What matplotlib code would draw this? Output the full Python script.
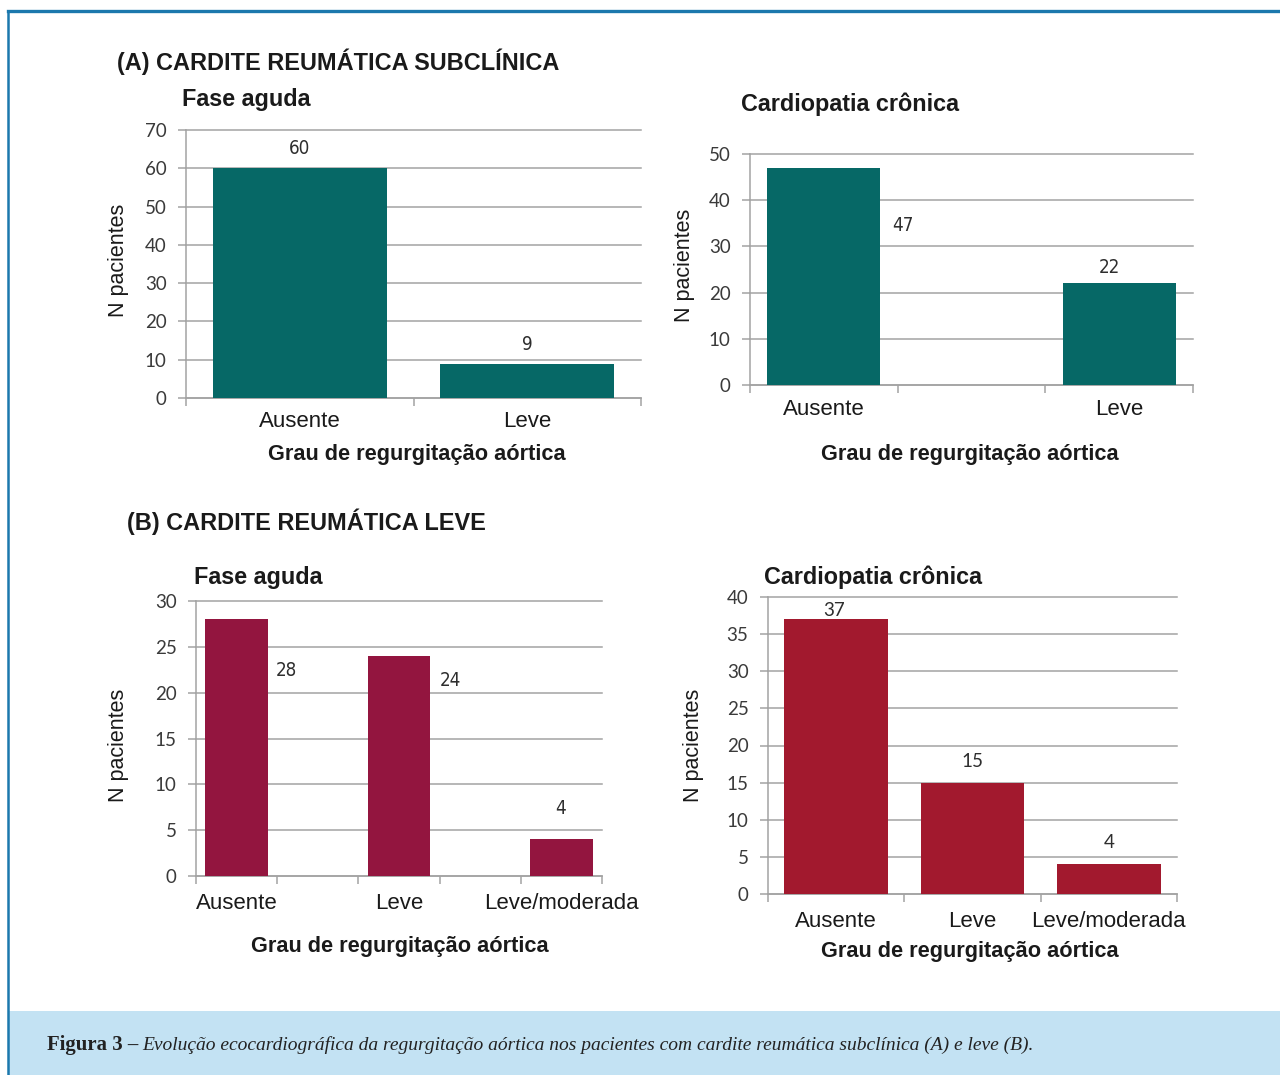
import matplotlib
matplotlib.use("Agg")
import matplotlib.pyplot as plt
from matplotlib.patches import Rectangle
from matplotlib.lines import Line2D

# ---- data ---------------------------------------------------------------
grau_a = ["Ausente", "Leve"]
grau_b = ["Ausente", "Leve", "Leve/moderada"]

a_fase_aguda = [60, 9]
a_cardiopatia = [47, 22]
b_fase_aguda = [28, 24, 4]
b_cardiopatia = [37, 15, 4]

yticks_a_aguda = [0, 10, 20, 30, 40, 50, 60, 70]
yticks_a_cronica = [0, 10, 20, 30, 40, 50]
yticks_b_aguda = [0, 5, 10, 15, 20, 25, 30]
yticks_b_cronica = [0, 5, 10, 15, 20, 25, 30, 35, 40]

titulo_a = "(A) CARDITE REUMÁTICA SUBCLÍNICA"
titulo_b = "(B) CARDITE REUMÁTICA LEVE"
sub_aguda = "Fase aguda"
sub_cronica = "Cardiopatia crônica"
eixo_x = "Grau de regurgitação aórtica"
eixo_y = "N pacientes"
legenda_neg = "Figura 3 –"
legenda_ita = ("Evolução ecocardiográfica da regurgitação aórtica nos pacientes "
               "com cardite reumática subclínica (A) e leve (B).")

# ---- style --------------------------------------------------------------
W, H = 1280, 1075
SANS = ["Liberation Sans", "DejaVu Sans"]
NUM = ["Lato", "DejaVu Sans"]
NARROW = ["DejaVu Sans"]
SERIF = ["Liberation Serif", "DejaVu Serif"]
GRID = "#a3a3a3"
TEAL = "#066866"
WINE = "#93153f"
RED = "#a2192e"
FRAME = "#1b78ad"
CAPTION_BG = "#c3e2f3"

fig = plt.figure(figsize=(W / 100, H / 100), dpi=100)


def px_rect(x0, y0, x1, y1):
    """Pixel box measured from the top-left corner -> figure fraction rect."""
    return [x0 / W, 1 - y1 / H, (x1 - x0) / W, (y1 - y0) / H]


def panel(box, cats, vals, slots, xlim, bounds, width, color, yticks,
          title, title_pos, xlab_pos, ylab_pos, cat_pad, val_offsets, val_font,
          val_size, val_stretch="normal"):
    ax = fig.add_axes(px_rect(*box))
    ax.set_xlim(*xlim)
    ax.set_ylim(yticks[0], yticks[-1])
    bars = ax.bar(slots, vals, width=width, color=color, zorder=3)

    ax.set_yticks(yticks)
    ax.set_xticks(slots)
    ax.set_xticklabels(cats, fontsize=16, family=SANS, color="#1a1a1a")
    ax.set_xticks(bounds, minor=True)
    ax.tick_params(axis="x", which="major", length=0, pad=cat_pad)
    ax.tick_params(axis="x", which="minor", length=6, width=1.1,
                   color=GRID, direction="out")
    ax.tick_params(axis="y", length=6, width=1.1, color=GRID, pad=8,
                   labelsize=13.5, labelcolor="#3a3a3a")
    for lab in ax.get_yticklabels():
        lab.set_family(NUM)

    ax.yaxis.grid(True, color=GRID, lw=1.1)
    for gl in ax.get_ygridlines():
        gl.set_clip_on(False)
    ax.set_axisbelow(True)
    for side in ("top", "right"):
        ax.spines[side].set_visible(False)
    for side in ("left", "bottom"):
        ax.spines[side].set_color(GRID)
        ax.spines[side].set_linewidth(1.1)

    for bar, v, (dx, dy) in zip(bars, vals, val_offsets):
        ax.annotate(str(v), xy=(bar.get_x() + bar.get_width() / 2, v),
                    xytext=(dx, dy), textcoords="offset pixels",
                    ha="center", va="center", fontsize=val_size,
                    family=val_font, fontstretch=val_stretch,
                    color="#2e2e2e", zorder=4)

    ax.text(title_pos[0], title_pos[1], title, transform=ax.transAxes,
            ha="left", va="center", fontsize=16.8, fontweight="bold",
            family=SANS, color="#1a1a1a")

    ax.set_xlabel(eixo_x, fontsize=15.7, fontweight="bold", family=SANS,
                  color="#1a1a1a")
    ax.xaxis.set_label_coords(*xlab_pos)
    ax.xaxis.label.set_va("center")
    ax.set_ylabel(eixo_y, fontsize=15.5, family=SANS, color="#1a1a1a")
    ax.yaxis.set_label_coords(*ylab_pos)
    ax.yaxis.label.set_va("center")
    ax.yaxis.label.set_ha("center")
    return ax


# (A) subclinical carditis
panel((186, 130, 641, 398), grau_a, a_fase_aguda, [0, 1], (-0.5, 1.5),
      [-0.5, 0.5, 1.5], 0.765, TEAL, yticks_a_aguda, sub_aguda,
      (-0.009, 1.112), (0.508, -0.209), (-0.149, 0.515), 9.5,
      [(0, 20), (0, 19.5)], NARROW, 13.5, "condensed")

panel((750, 154, 1193, 385), grau_a, a_cardiopatia, [0, 1], (-0.25, 1.25),
      [-0.25, 0.25, 0.75, 1.25], 0.383, TEAL, yticks_a_cronica, sub_cronica,
      (-0.020, 1.216), (0.497, -0.299), (-0.147, 0.519), 10,
      [(79, -58), (-10, 16)], NARROW, 13.5, "condensed")

# (B) mild carditis
panel((196, 601, 602, 876), grau_b, b_fase_aguda, [0, 2, 4], (-0.5, 4.5),
      [-0.5, 0.5, 1.5, 2.5, 3.5, 4.5], 0.77, WINE, yticks_b_aguda, sub_aguda,
      (-0.005, 1.084), (0.502, -0.255), (-0.192, 0.476), 12,
      [(50, -51), (51, -24), (-1, 31)], NARROW, 13.5, "condensed")

panel((768, 597, 1177, 894), grau_b, b_cardiopatia, [0, 1, 2], (-0.5, 2.5),
      [-0.5, 0.5, 1.5, 2.5], 0.76, RED, yticks_b_cronica, sub_cronica,
      (-0.010, 1.067), (0.494, -0.192), (-0.183, 0.502), 12.5,
      [(-2, 9), (0, 21.6), (0, 22)], NUM, 13.5)

# section headings
fig.text(117 / W, 1 - 62 / H, titulo_a, ha="left", va="center",
         fontsize=16.9, fontweight="bold", family=SANS, color="#1a1a1a")
fig.text(127 / W, 1 - 522 / H, titulo_b, ha="left", va="center",
         fontsize=16.9, fontweight="bold", family=SANS, color="#1a1a1a")

# frame and caption box
fig.patches.append(Rectangle((8 / W, 0), (W - 8) / W, 64 / H,
                             transform=fig.transFigure, facecolor=CAPTION_BG,
                             edgecolor="none", zorder=0))
fig.lines.append(Line2D([8 / W, 1], [1 - 11 / H, 1 - 11 / H],
                        transform=fig.transFigure, color=FRAME, lw=2.4))
fig.lines.append(Line2D([8 / W, 8 / W], [0, 1 - 11 / H],
                        transform=fig.transFigure, color=FRAME, lw=1.8))

# caption: bold lead-in followed by italic text, each fitted to its span
renderer = fig.canvas.get_renderer()
cap_y = 1 - 1045 / H
t_bold = fig.text(47 / W, cap_y, legenda_neg, ha="left", va="center",
                  fontsize=14.5, fontweight="bold", family=SERIF,
                  color="#222222")
w_bold = t_bold.get_window_extent(renderer).width
t_bold.set_fontsize(14.5 * (138 - 47) / w_bold)
x_start = 142
t_ita = fig.text(x_start / W, cap_y, legenda_ita, ha="left", va="center",
                 fontsize=14.5, style="italic", family=SERIF, color="#222222")
w_now = t_ita.get_window_extent(renderer).width
t_ita.set_fontsize(14.5 * (1034 - x_start) / w_now)

fig.savefig("out.png", dpi=100)
